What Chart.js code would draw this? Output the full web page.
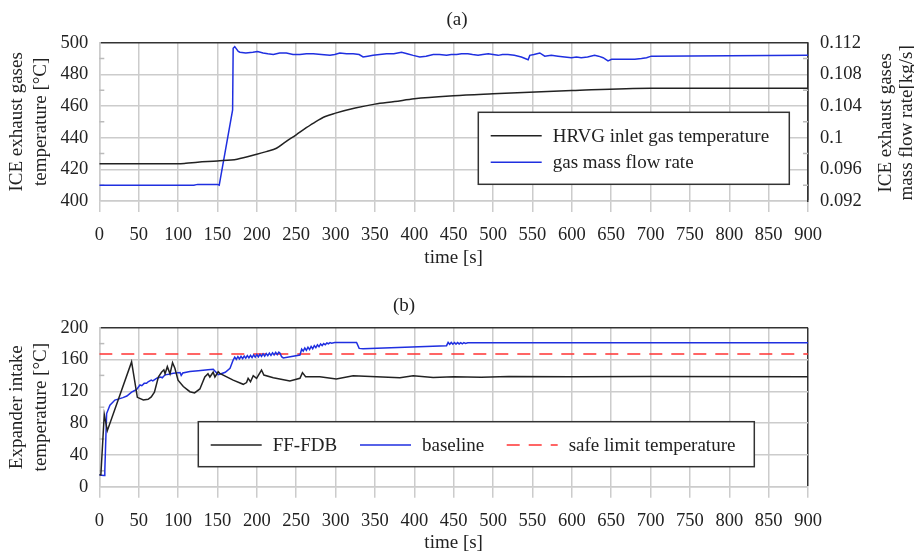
<!DOCTYPE html>
<html>
<head>
<meta charset="utf-8">
<title>HRVG transient</title>
<script src="https://cdn.jsdelivr.net/npm/chart.js@4.4.1/dist/chart.umd.min.js"></script>
<style>
    html, body { margin: 0; padding: 0; background: #fff; overflow: hidden; }
    .wrap { position: absolute; left: 0; width: 914px; height: 280px; }
    #wrapA { top: 0; }
    #wrapB { top: 276px; }
</style>
</head>
<body>
<div class="wrap" id="wrapA"><canvas id="chartA" width="914" height="280"></canvas></div>
<div class="wrap" id="wrapB"><canvas id="chartB" width="914" height="280"></canvas></div>
<script>
// ---- (a) ICE exhaust gases ----
const hrvgTime = [0, 100, 110, 125, 150, 175, 200, 212, 225, 237, 250, 262, 275, 287, 300, 325, 350, 375, 400, 450, 500, 600, 700, 900];
const hrvgTemp = [423.5, 423.5, 423.8, 424.5, 425.3, 426.4, 429.5, 431.2, 433.3, 437.5, 441.8, 446.0, 450.2, 453.4, 455.5, 458.7, 461.2, 462.8, 464.6, 466.5, 467.7, 469.8, 471.3, 471.3];

const flowTime = [0, 120, 125, 135, 150, 152.3, 169.3, 170, 172, 176.5, 178.6, 186, 195, 201, 208, 214, 221, 229, 237.6, 246, 254.8, 263, 271.7, 282, 292.9, 299, 305.5, 314, 322.4, 330, 335, 341, 347.7, 356, 364.8, 374, 383.8, 391, 398.6, 407, 415, 424, 432, 441, 447, 453.7, 460, 468, 474, 481, 487, 494, 500, 506.5, 512, 519, 527, 536, 544.6, 546.7, 552, 559.4, 565.7, 574, 582.6, 591, 599.6, 606, 612, 620, 629, 634, 639.8, 646, 650.6, 660, 671.7, 680, 688.5, 695, 701, 900];
const flowRate = [0.0940, 0.0940, 0.0941, 0.0941, 0.0941, 0.0940, 0.1035, 0.1113, 0.1115, 0.1109, 0.1108, 0.1107, 0.1108, 0.1109, 0.1107, 0.1106, 0.1105, 0.1107, 0.1107, 0.1105, 0.1105, 0.1106, 0.1106, 0.1105, 0.1104, 0.1105, 0.1107, 0.1106, 0.1106, 0.1105, 0.1102, 0.1103, 0.1104, 0.1105, 0.1106, 0.1106, 0.1108, 0.1106, 0.1104, 0.1102, 0.1103, 0.1105, 0.1105, 0.1104, 0.1105, 0.1105, 0.1106, 0.1106, 0.1105, 0.1104, 0.1105, 0.1106, 0.1105, 0.1104, 0.1105, 0.1105, 0.1104, 0.1102, 0.10985, 0.1104, 0.1105, 0.1107, 0.1103, 0.1104, 0.1103, 0.1102, 0.1101, 0.1102, 0.1101, 0.1102, 0.1104, 0.1103, 0.1101, 0.1097, 0.1099, 0.1099, 0.1099, 0.1099, 0.1100, 0.1101, 0.1103, 0.1104];

// ---- (b) expander intake ----
const fdbTime = [0, 2, 6.3, 10.2, 41, 48.3, 55.9, 62, 66, 70, 75, 79, 82, 83.5, 86.4, 89.8, 93, 96, 100, 106.7, 115, 121, 127.7, 134, 138, 140.4, 144.6, 146.8, 151, 153, 170, 182.8, 187, 189, 192, 195.5, 199.7, 206, 209, 221, 242, 254.8, 258, 262, 280, 301, 322.4, 352, 381.7, 398.6, 424, 450, 485, 520, 600, 700, 900];
const fdbTemp = [15, 15, 91, 70.4, 157, 112.4, 109, 110, 113, 119, 138, 144, 147, 142, 151, 142, 156, 149, 134, 126, 119.5, 118, 123, 138, 142, 138, 144, 138, 144.6, 142.6, 134, 128.8, 131, 136.3, 132, 139.6, 136.3, 146.8, 140.5, 137, 133, 136.3, 143.5, 138.4, 138.4, 135.5, 139.6, 138.4, 137, 139.6, 137.5, 138.4, 137.8, 138.6, 138.4, 138.6, 138.4];

const baseTime = [0, 6, 7, 9.3, 13.5, 19.8, 25, 30, 35, 41, 45, 48, 51.6, 54, 57, 60, 62, 66, 68, 73, 78, 80, 83.5, 88, 94, 102.5, 104, 106, 115, 125.7, 138, 144.7, 151, 153, 160, 166, 170,
    172, 174, 176, 178, 180, 182, 184, 186, 188, 190, 192, 194, 196, 198, 200, 202, 204, 206, 208, 210, 212, 214, 216, 218, 220, 222, 224, 226, 228, 229.5, 231.5, 233.6, 254.8,
    257, 259, 261, 263, 265, 267, 269, 271, 273, 275, 277, 279, 281, 283, 285, 287, 289, 291, 293, 295, 299, 326.7, 330, 335, 441,
    443, 445, 447, 449, 451, 453, 455, 457, 459, 461, 463, 465, 468, 472, 900];
const baseTemp = [14.7, 14, 20, 92, 102.6, 109, 110.5, 112, 114, 119, 121, 123, 128, 127, 130, 130, 132, 134, 133, 136.5, 138, 137, 140.7, 141.5, 142.8, 143.6, 140, 143, 145, 146, 147, 147.6, 141, 141.4, 144, 149, 159.4,
    163.0, 160.2, 163.5, 160.7, 164.0, 161.1, 164.4, 161.6, 164.9, 162.0, 165.3, 162.5, 165.8, 162.9, 166.2, 163.4, 166.6, 163.8, 167.1, 164.3, 167.5, 164.8, 168.0, 165.2, 168.4, 165.7, 168.9, 166.1, 169.3, 168.0, 163.5, 162, 165.7,
    173, 170.5, 174.5, 171.5, 175.5, 172.5, 176.5, 173.5, 177.5, 175, 178.5, 176, 179.5, 177.5, 180, 178.5, 180.8, 179.8, 181.2, 180.6, 181.3, 181.3, 174, 173.4, 177.4,
    181.5, 179.2, 181.5, 179.3, 181.4, 179.4, 181.3, 179.6, 181.2, 179.8, 181.2, 180.2, 181.1, 181.1, 181.1];

const safeTime = [0, 900];
const safeTemp = [167, 167];

const FONT = '"Liberation Serif", "Times New Roman", serif';
const GRID = '#cccccc';
const DARK = '#333333';
const BLACK = '#222222';
const BLUE = '#1f2fe0';
const RED = '#ff3333';

Chart.defaults.font.family = FONT;
Chart.defaults.font.size = 19;
Chart.defaults.color = '#222';

function toPoints(xs, ys) {
    return xs.map((x, i) => ({x: x, y: ys[i]}));
}

// small inner tick marks halfway between the labelled y ticks
const minorTicks = {
    id: 'minorTicks',
    beforeDatasetsDraw(chart, args, opts) {
        const {ctx, chartArea} = chart;
        const scale = chart.scales.y;
        const ticks = scale.ticks;
        ctx.save();
        ctx.strokeStyle = '#bbbbbb';
        ctx.lineWidth = 1.5;
        for (let i = 0; i < ticks.length - 1; i++) {
            const y = scale.getPixelForValue((ticks[i].value + ticks[i + 1].value) / 2);
            ctx.beginPath();
            ctx.moveTo(chartArea.left, y);
            ctx.lineTo(chartArea.left + 5, y);
            if (opts.right) {
                ctx.moveTo(chartArea.right, y);
                ctx.lineTo(chartArea.right - 5, y);
            }
            ctx.stroke();
        }
        ctx.restore();
    }
};

// framed legend inside the plot area
const boxLegend = {
    id: 'boxLegend',
    afterDraw(chart, args, opts) {
        const {ctx, chartArea} = chart;
        const bx = chartArea.left + opts.x;
        const by = chartArea.top + opts.y;
        ctx.save();
        ctx.fillStyle = '#fff';
        ctx.fillRect(bx, by, opts.w, opts.h);
        ctx.strokeStyle = DARK;
        ctx.lineWidth = 1.5;
        ctx.strokeRect(bx, by, opts.w, opts.h);
        ctx.font = '19px ' + FONT;
        ctx.textBaseline = 'middle';
        ctx.textAlign = 'left';
        opts.items.forEach(it => {
            const ds = chart.data.datasets[it.ds];
            const x0 = bx + it.x;
            const y0 = by + it.y;
            ctx.beginPath();
            ctx.setLineDash(ds.borderDash || []);
            ctx.strokeStyle = ds.borderColor;
            ctx.lineWidth = 1.5;
            ctx.moveTo(x0, y0);
            ctx.lineTo(x0 + 51, y0);
            ctx.stroke();
            ctx.setLineDash([]);
            ctx.fillStyle = '#222';
            ctx.fillText(ds.label, x0 + 62, y0 + 1);
        });
        ctx.restore();
    }
};

// right axis title reads bottom-to-top like the left one
const rightTitle = {
    id: 'rightTitle',
    afterDraw(chart, args, opts) {
        if (!opts.lines) return;
        const {ctx, chartArea} = chart;
        const cy = (chartArea.top + chartArea.bottom) / 2;
        ctx.save();
        ctx.font = '19px ' + FONT;
        ctx.fillStyle = '#222';
        ctx.textAlign = 'center';
        ctx.textBaseline = 'middle';
        opts.lines.forEach((t, i) => {
            ctx.save();
            ctx.translate(opts.x[i], cy + 1);
            ctx.rotate(-Math.PI / 2);
            ctx.fillText(t, 0, 0);
            ctx.restore();
        });
        ctx.restore();
    }
};

function xScale(height, titlePadBottom) {
    return {
        type: 'linear',
        min: 0,
        max: 900,
        ticks: { stepSize: 50, padding: 12, font: { size: 18.5 }, color: '#222' },
        grid: {
            color: c => (c.tick && c.tick.value === 900) ? DARK : GRID,
            lineWidth: 1.5,
            tickLength: 11,
            tickColor: GRID
        },
        border: { color: GRID, width: 1.5 },
        title: { display: true, text: 'time [s]', font: { size: 19 }, padding: { top: 0, bottom: titlePadBottom } },
        afterFit: s => { s.height = height; }
    };
}

function yScale(min, max, step, title) {
    return {
        type: 'linear',
        position: 'left',
        min: min,
        max: max,
        ticks: { stepSize: step, padding: 11, font: { size: 18.5 }, color: '#222' },
        grid: {
            color: c => (c.tick && c.tick.value === max) ? DARK : GRID,
            lineWidth: 1.5,
            drawTicks: false
        },
        border: { color: GRID, width: 1.5 },
        title: { display: true, text: title, font: { size: 19, lineHeight: 1.25 }, padding: { top: 5, bottom: 0 } },
        afterFit: s => { s.width = 99.3; }
    };
}

const lineDefaults = { borderWidth: 1.5, pointRadius: 0, fill: false };

new Chart(document.getElementById('chartA'), {
    type: 'line',
    data: {
        datasets: [
            Object.assign({
                label: 'HRVG inlet gas temperature',
                data: toPoints(hrvgTime, hrvgTemp),
                borderColor: BLACK,
                cubicInterpolationMode: 'monotone',
                yAxisID: 'y'
            }, lineDefaults),
            Object.assign({
                label: 'gas mass flow rate',
                data: toPoints(flowTime, flowRate),
                borderColor: BLUE,
                yAxisID: 'y1'
            }, lineDefaults)
        ]
    },
    options: {
        responsive: false,
        animation: false,
        events: [],
        layout: { padding: 0 },
        plugins: {
            legend: { display: false },
            tooltip: { enabled: false },
            title: { display: true, text: '(a)', font: { size: 19, weight: 'normal' }, color: '#222', padding: { top: 8.6, bottom: 11.3 } },
            minorTicks: { right: true },
            boxLegend: {
                x: 379, y: 69.6, w: 311, h: 72,
                items: [ { ds: 0, x: 12.4, y: 23.4 }, { ds: 1, x: 12.4, y: 50 } ]
            },
            rightTitle: { lines: ['ICE exhaust gases', 'mass flow rate[kg/s]'], x: [886, 907] }
        },
        scales: {
            x: xScale(79, 11),
            y: yScale(400, 500, 20, ['ICE exhaust gases', 'temperature [°C]']),
            y1: {
                type: 'linear',
                position: 'right',
                min: 0.092,
                max: 0.112,
                ticks: {
                    stepSize: 0.004,
                    padding: 12,
                    font: { size: 18.5 },
                    color: '#222',
                    callback: v => String(+v.toFixed(3))
                },
                grid: { drawOnChartArea: false, drawTicks: false },
                border: { color: DARK, width: 1.5 },
                afterFit: s => { s.width = 106; }
            }
        }
    },
    plugins: [minorTicks, boxLegend, rightTitle]
});

new Chart(document.getElementById('chartB'), {
    type: 'line',
    data: {
        datasets: [
            Object.assign({
                label: 'FF-FDB',
                data: toPoints(fdbTime, fdbTemp),
                borderColor: BLACK
            }, lineDefaults),
            Object.assign({
                label: 'baseline',
                data: toPoints(baseTime, baseTemp),
                borderColor: BLUE
            }, lineDefaults),
            Object.assign({
                label: 'safe limit temperature',
                data: toPoints(safeTime, safeTemp),
                borderColor: RED,
                borderDash: [13, 9]
            }, lineDefaults)
        ]
    },
    options: {
        responsive: false,
        animation: false,
        events: [],
        layout: { padding: { right: 106 } },
        plugins: {
            legend: { display: false },
            tooltip: { enabled: false },
            title: { display: true, text: '(b)', font: { size: 19, weight: 'normal' }, color: '#222', padding: { top: 18.6, bottom: 10.3 } },
            minorTicks: { right: false },
            boxLegend: {
                x: 99, y: 94, w: 556, h: 45,
                items: [ { ds: 0, x: 12.4, y: 23.3 }, { ds: 1, x: 161.7, y: 23.3 }, { ds: 2, x: 308.4, y: 23.3 } ]
            },
            rightTitle: {}
        },
        scales: {
            x: xScale(69.3, 1.6),
            y: yScale(0, 200, 40, ['Expander intake', 'temperature [°C]'])
        }
    },
    plugins: [minorTicks, boxLegend, rightTitle]
});
</script>
</body>
</html>
